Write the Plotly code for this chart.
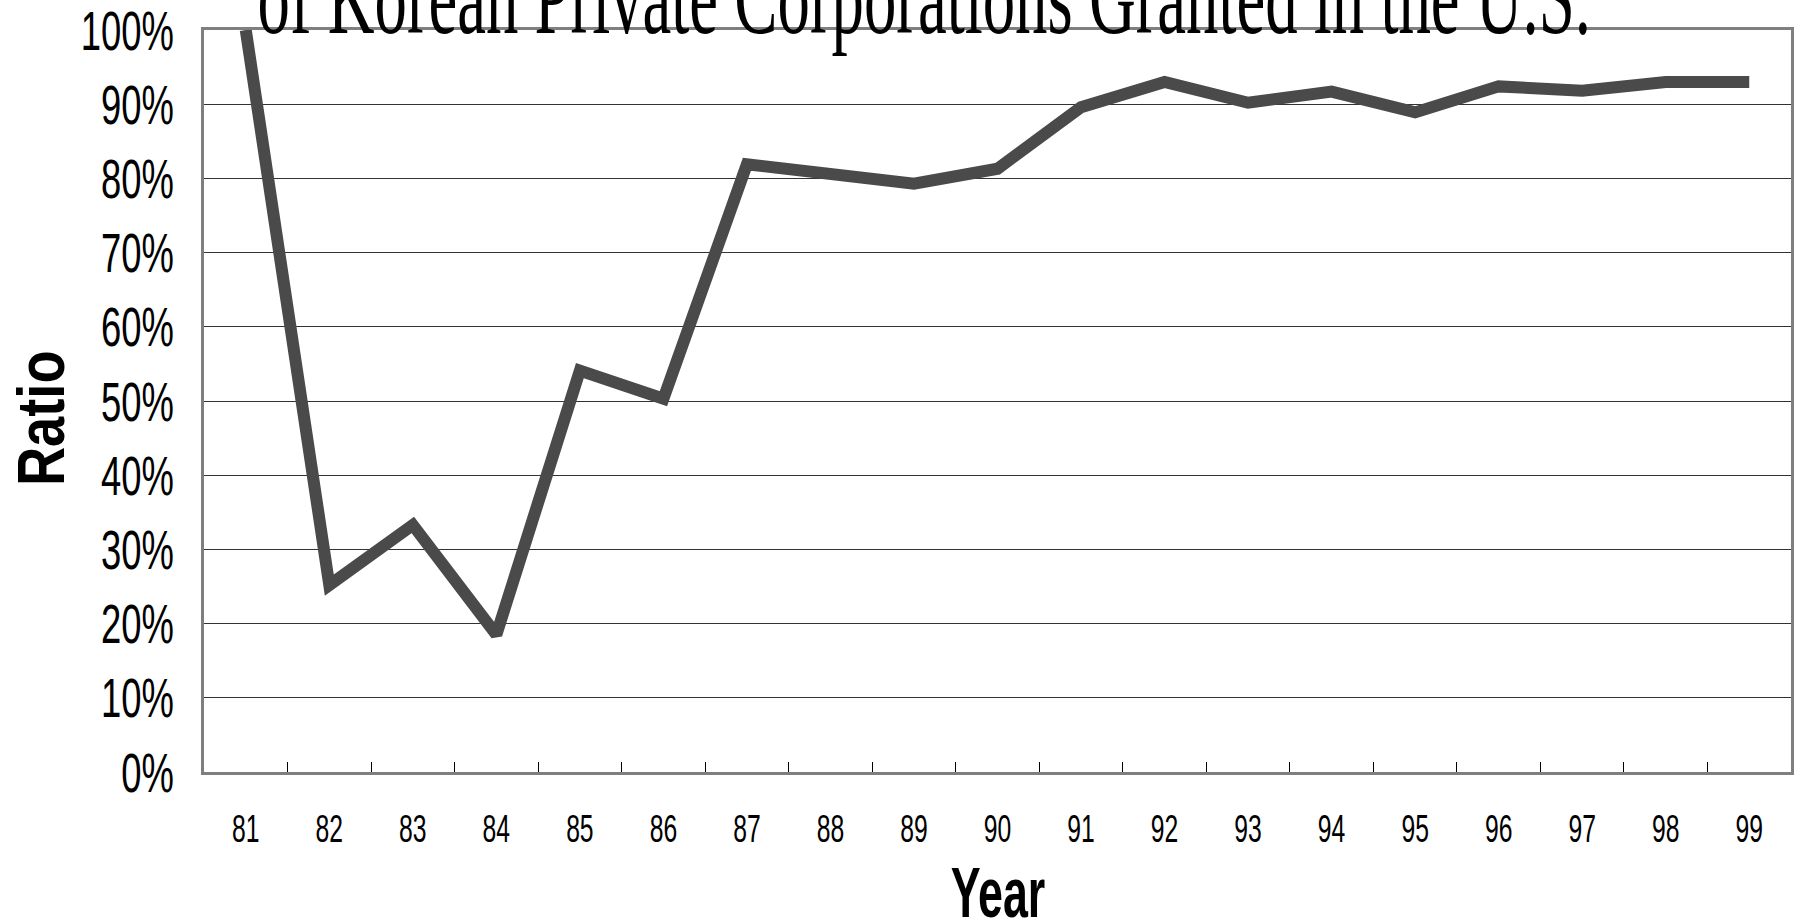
import json
import plotly.graph_objects as go

# Share of US patents granted to Korean private corporations, 1981-1999
years = ["81", "82", "83", "84", "85", "86", "87", "88", "89", "90",
         "91", "92", "93", "94", "95", "96", "97", "98", "99"]
ratio = [1.000, 0.252, 0.333, 0.185, 0.541, 0.503, 0.819, 0.806, 0.793, 0.813,
         0.896, 0.930, 0.902, 0.917, 0.889, 0.924, 0.918, 0.930, 0.930]

y_ticks = [i / 10 for i in range(11)]
y_tick_text = [f"{i * 10}%" for i in range(11)]

title_text = "of Korean Private Corporations Granted in the U.S."
x_title = "Year"
y_title = "Ratio"

W, H = 1804, 921
ML, MR, MT, MB = 204, 13, 30, 149

fig = go.Figure()
fig.add_trace(go.Scatter(
    x=years, y=ratio, mode="lines",
    line=dict(color="#4a4a4a", width=12),
    hoverinfo="skip", showlegend=False,
))

fig.update_layout(
    template="none",
    width=W, height=H, autosize=False,
    margin=dict(l=ML, r=MR, t=MT, b=MB, pad=0),
    paper_bgcolor="white", plot_bgcolor="white",
    showlegend=False,
    xaxis=dict(
        type="category", categoryorder="array", categoryarray=years,
        range=[-0.5, len(years) - 0.5],
        automargin=False,
        showgrid=False, zeroline=False,
        showline=True, linecolor="#7f7f7f", linewidth=3, mirror=True,
        ticks="inside", ticklen=10, tickwidth=1, tickcolor="#000000",
        tickson="boundaries",
        tickfont=dict(family="Liberation Sans, Arial, sans-serif", size=38, color="#000000"),
        ticklabelstandoff=21,
        ticklabeloverflow="allow",
    ),
    yaxis=dict(
        range=[0, 1], tickvals=y_ticks, ticktext=y_tick_text,
        automargin=False,
        showgrid=True, gridcolor="#333333", gridwidth=1.3,
        zeroline=False,
        showline=True, linecolor="#7f7f7f", linewidth=3, mirror=True,
        ticks="",
        tickfont=dict(family="Liberation Sans, Arial, sans-serif", size=56, color="#000000"),
        ticklabelstandoff=16,
        ticklabeloverflow="allow",
    ),
    annotations=[
        dict(text=title_text, xref="paper", yref="paper",
             x=(924 - ML) / (W - ML - MR), y=(H - MB - 58) / (H - MB - MT),
             xanchor="center", yanchor="bottom", showarrow=False,
             font=dict(family="Liberation Serif, Times New Roman, serif", size=108, color="#000000")),
        dict(text=x_title, xref="paper", yref="paper",
             x=(998 - ML) / (W - ML - MR), y=(H - MB - 852) / (H - MB - MT),
             xanchor="center", yanchor="top", showarrow=False,
             font=dict(family="Liberation Sans, Arial, sans-serif", size=70, color="#000000", weight="bold")),
        dict(text=y_title, xref="paper", yref="paper", textangle=-90,
             x=(40 - ML) / (W - ML - MR), y=(H - MB - 418) / (H - MB - MT),
             xanchor="center", yanchor="middle", showarrow=False,
             font=dict(family="Liberation Sans, Arial, sans-serif", size=67, color="#000000", weight="bold")),
    ],
)

# Condensed lettering: squeeze each label along its baseline.
tick_squeeze = 0.65
annotation_squeeze = [0.60, 0.64, 0.81]

post_script = """
var gd = document.getElementById('{plot_id}');
function squeeze(el, f) {
  var w = el.getComputedTextLength();
  if (w > 0) {
    el.setAttribute('textLength', (w * f).toFixed(2));
    el.setAttribute('lengthAdjust', 'spacingAndGlyphs');
  }
}
gd.querySelectorAll('g.xtick text, g.ytick text').forEach(function (t) { squeeze(t, TICK); });
var ann = ANN;
gd.querySelectorAll('g.annotation').forEach(function (g) {
  var i = parseInt(g.getAttribute('data-index'));
  var t = g.querySelector('text.annotation-text');
  if (t && !isNaN(i) && i < ann.length) { squeeze(t, ann[i]); }
});
""".replace("TICK", json.dumps(tick_squeeze)).replace("ANN", json.dumps(annotation_squeeze))

fig.write_html("out.html", post_script=post_script, config={"displayModeBar": False})
